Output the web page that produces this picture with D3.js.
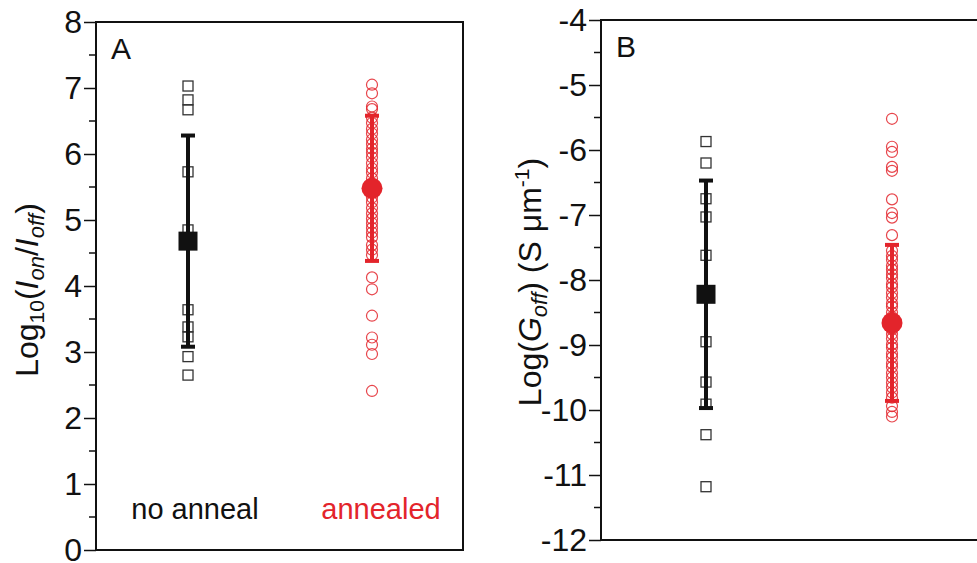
<!DOCTYPE html>
<html>
<head>
<meta charset="utf-8">
<script src="https://cdn.jsdelivr.net/npm/d3@7"></script>
<style>
  body { margin: 0; background: #fff; }
  svg { display: block; font-family: "Liberation Sans", Arial, sans-serif; }
</style>
</head>
<body>
<div id="chart"></div>
<script>
// groups
const groups = ['no anneal', 'annealed'];
const groupColors = ['#111111', '#e3242b'];

// panel A: log10(Ion/Ioff)
const noAnnealA = [7.03, 6.82, 6.67, 5.73, 4.85, 3.64, 3.38, 3.23, 2.93, 2.65];
const annealedA = [7.05, 6.92, 6.72, 6.68, 6.55, 6.47, 6.38, 6.31, 6.22, 6.15, 6.08, 6.02,
    5.95, 5.86, 5.78, 5.72, 5.63, 5.55, 5.41, 5.34, 5.27, 5.18, 5.1, 5.02, 4.95, 4.88,
    4.81, 4.74, 4.62, 4.55, 4.47, 4.13, 3.95, 3.55, 3.22, 3.11, 2.97, 2.41];
const meansA = [4.68, 5.48];
const sdA = [1.6, 1.1];
const ticksA = [0, 1, 2, 3, 4, 5, 6, 7, 8];

// panel B: log(Goff)
const noAnnealB = [-5.87, -6.2, -6.75, -7.03, -7.62, -8.95, -9.57, -9.91, -10.38, -11.18];
const annealedB = [-5.52, -5.95, -6.03, -6.26, -6.32, -6.76, -6.97, -7.04, -7.31, -7.55,
    -7.63, -7.69, -7.78, -7.84, -7.91, -7.97, -8.06, -8.11, -8.2, -8.27, -8.36, -8.41,
    -8.5, -8.57, -8.76, -8.83, -8.9, -8.99, -9.04, -9.13, -9.19, -9.28, -9.34, -9.43,
    -9.5, -9.58, -9.65, -9.73, -9.81, -9.94, -10.03, -10.1];
const meansB = [-8.22, -8.66];
const sdB = [1.75, 1.2];
const ticksB = [-12, -11, -10, -9, -8, -7, -6, -5, -4];

const W = 977, H = 563;
const svg = d3.select('#chart').append('svg')
    .attr('width', W)
    .attr('height', H);

function drawPanel(opt) {
    const g = svg.append('g');
    const y = d3.scaleLinear().domain(opt.domain).range([opt.bottom, opt.top]);
    const x = d3.scalePoint().domain(groups).range(opt.xRange);

    // frame
    g.append('rect')
        .attr('x', opt.left).attr('y', opt.top)
        .attr('width', opt.right - opt.left).attr('height', opt.bottom - opt.top)
        .attr('fill', 'none').attr('stroke', '#111').attr('stroke-width', 2);

    // minor ticks
    const minor = d3.range(opt.domain[0] + 0.5, opt.domain[1], 1);
    g.selectAll('.minor').data(minor).join('line')
        .attr('x1', opt.left - 7).attr('x2', opt.left)
        .attr('y1', d => y(d)).attr('y2', d => y(d))
        .attr('stroke', '#111').attr('stroke-width', 1.5);

    // major axis
    const axis = d3.axisLeft(y).tickValues(opt.ticks).tickSize(12).tickPadding(2)
        .tickFormat(d => d < 0 ? '-' + Math.abs(d) : d);
    const ax = g.append('g').attr('transform', `translate(${opt.left},0)`).call(axis);
    ax.select('.domain').remove();
    ax.selectAll('line').attr('stroke', '#111').attr('stroke-width', 1.5);
    ax.selectAll('text')
        .attr('font-size', 32).attr('fill', '#111').attr('dy', '0.33em')
        .attr('font-family', '"Liberation Sans", Arial, sans-serif');

    // individual points
    g.selectAll('.sq').data(opt.data[0]).join('rect')
        .attr('x', x(groups[0]) - 5).attr('y', d => y(d) - 5)
        .attr('width', 10).attr('height', 10)
        .attr('fill', 'none').attr('stroke', '#333').attr('stroke-width', 1.3);
    g.selectAll('.ci').data(opt.data[1]).join('circle')
        .attr('cx', x(groups[1])).attr('cy', d => y(d)).attr('r', 5.5)
        .attr('fill', 'none').attr('stroke', groupColors[1]).attr('stroke-width', 1.2)
        .attr('opacity', 0.85);

    // error bars
    groups.forEach((k, i) => {
        const cx = x(k), m = opt.means[i], s = opt.sd[i];
        const c = groupColors[i];
        g.append('line')
            .attr('x1', cx).attr('x2', cx)
            .attr('y1', y(m + s)).attr('y2', y(m - s))
            .attr('stroke', c).attr('stroke-width', 4);
        [m + s, m - s].forEach(v => {
            g.append('line')
                .attr('x1', cx - 7).attr('x2', cx + 7)
                .attr('y1', y(v)).attr('y2', y(v))
                .attr('stroke', c).attr('stroke-width', 4);
        });
    });

    // means
    g.append('rect')
        .attr('x', x(groups[0]) - 9.5).attr('y', y(opt.means[0]) - 9.5)
        .attr('width', 19).attr('height', 19).attr('fill', groupColors[0]);
    g.append('circle')
        .attr('cx', x(groups[1])).attr('cy', y(opt.means[1])).attr('r', 10.5)
        .attr('fill', groupColors[1]);

    // panel letter
    g.append('text')
        .attr('x', opt.left + 15).attr('y', opt.top + 37)
        .attr('font-size', 30).attr('fill', '#111')
        .text(opt.letter);

    return { g, y, x };
}

// Panel A
const pA = drawPanel({
    left: 96, right: 463, top: 22, bottom: 550,
    domain: [0, 8], ticks: ticksA, xRange: [188, 372],
    data: [noAnnealA, annealedA], means: meansA, sd: sdA, letter: 'A'
});

// group labels inside panel A
pA.g.selectAll('.glabel').data(groups).join('text')
    .attr('x', (d, i) => [195, 381][i])
    .attr('y', 519)
    .attr('text-anchor', 'middle')
    .attr('font-size', 29)
    .attr('fill', (d, i) => groupColors[i])
    .text(d => d);

// y title A
const tA = svg.append('text')
    .attr('transform', 'translate(38,290) rotate(-90)')
    .attr('text-anchor', 'middle')
    .attr('font-size', 32).attr('fill', '#111');
tA.append('tspan').text('Log');
tA.append('tspan').attr('font-size', 21).attr('dy', 6).text('10');
tA.append('tspan').attr('dy', -6).text('(');
tA.append('tspan').attr('font-style', 'italic').text('I');
tA.append('tspan').attr('font-size', 22).attr('font-style', 'italic').attr('dy', 6).text('on');
tA.append('tspan').attr('dy', -6).text('/');
tA.append('tspan').attr('font-style', 'italic').text('I');
tA.append('tspan').attr('font-size', 22).attr('font-style', 'italic').attr('dy', 6).text('off');
tA.append('tspan').attr('dy', -6).text(')');

// Panel B
drawPanel({
    left: 601, right: 995, top: 20, bottom: 540,
    domain: [-12, -4], ticks: ticksB, xRange: [706, 892],
    data: [noAnnealB, annealedB], means: meansB, sd: sdB, letter: 'B'
});

// y title B
const tB = svg.append('text')
    .attr('transform', 'translate(541,282) rotate(-90)')
    .attr('text-anchor', 'middle')
    .attr('font-size', 32).attr('fill', '#111');
tB.append('tspan').text('Log(');
tB.append('tspan').attr('font-style', 'italic').text('G');
tB.append('tspan').attr('font-size', 22).attr('font-style', 'italic').attr('dy', 6).text('off');
tB.append('tspan').attr('dy', -6).text(') (S \u03bcm');
tB.append('tspan').attr('font-size', 21).attr('dy', -12).text('-1');
tB.append('tspan').attr('dy', 12).text(')');
</script>
</body>
</html>
